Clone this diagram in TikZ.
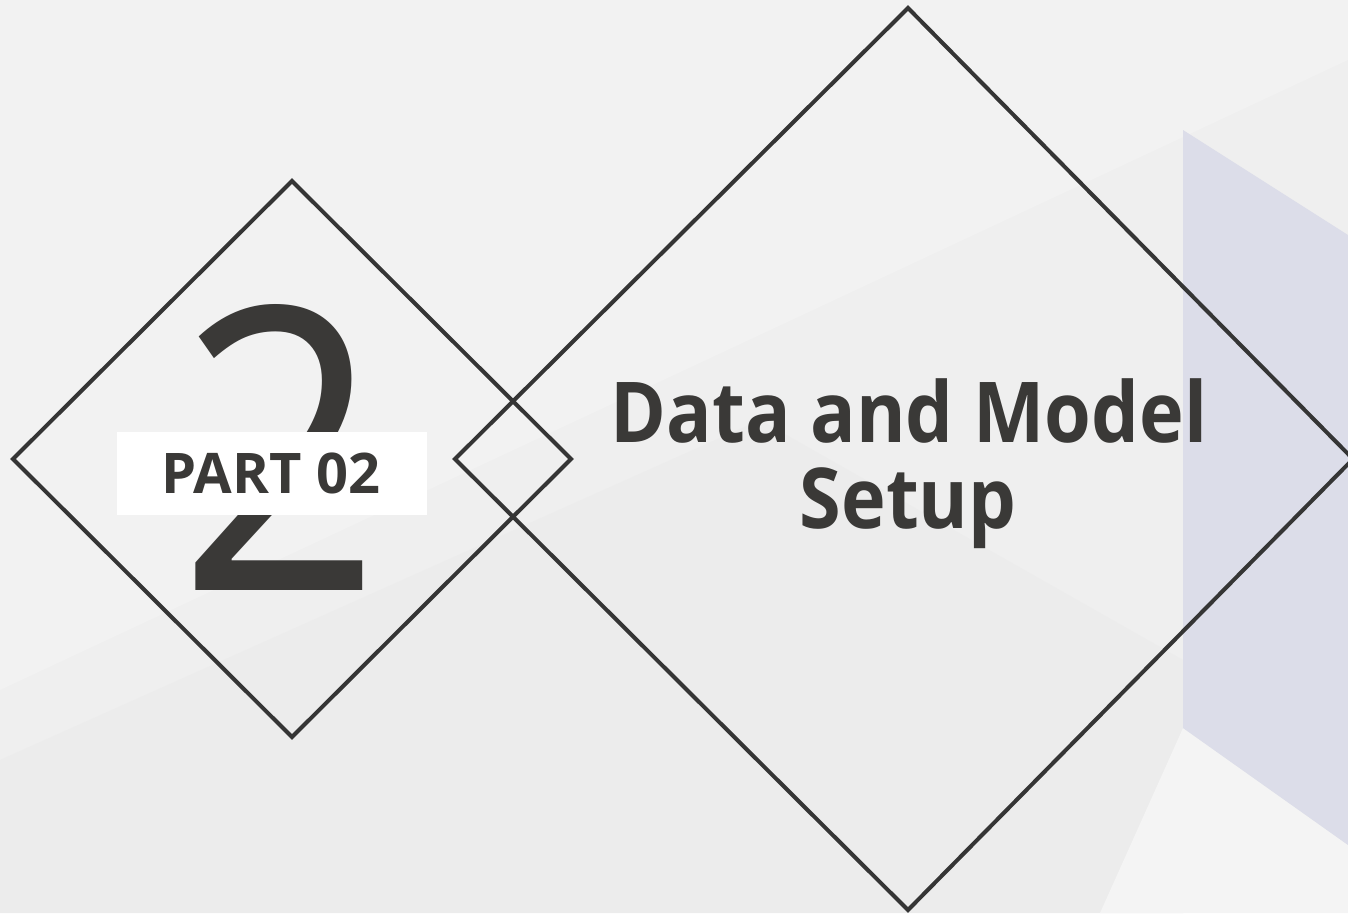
\documentclass[tikz,border=0pt]{standalone}
\usepackage{fontspec}
\setmainfont{Open Sans}
\newfontfamily\titlefont[FakeStretch=0.9]{Open Sans}
\begin{document}
\begin{tikzpicture}[x=1pt,y=-1pt,
  diamondline/.style={draw=linecol, line width=4pt, line join=miter, miter limit=10},
  bigdigit/.style={text=textcol, inner sep=0pt, anchor=base, font=\titlefont\fontsize{395}{395}\selectfont},
  partlabel/.style={text=textcol, inner sep=0pt, anchor=base, font=\bfseries\fontsize{56}{56}\selectfont},
  titletext/.style={text=textcol, inner sep=0pt, anchor=base, align=center, font=\titlefont\bfseries\fontsize{84}{86}\selectfont}]
\definecolor{bgcol}{HTML}{EFEFEF}
\definecolor{bglight}{HTML}{F2F2F2}
\definecolor{bgdark}{HTML}{ECECEC}
\definecolor{bgwhite}{HTML}{F4F4F4}
\definecolor{lavender}{HTML}{DCDDE9}
\definecolor{linecol}{HTML}{353535}
\definecolor{textcol}{HTML}{3A3937}
\useasboundingbox (0,0) rectangle (1348,913);
% background
\fill[bgcol] (0,0) rectangle (1348,913);
\fill[bglight] (0,0) -- (1348,0) -- (1348,60) -- (0,690) -- cycle;
\fill[bgdark] (0,913) -- (0,760) -- (760,420) -- (1183,660) -- (1183,913) -- cycle;
\fill[bgwhite] (1183,728) -- (1348,845) -- (1348,913) -- (1100,913) -- cycle;
\fill[lavender] (1183,130) -- (1348,235) -- (1348,845) -- (1183,728) -- cycle;
% diamonds
\draw[diamondline] (292,181) -- (571,459) -- (292,737) -- (13,459) -- cycle;
\draw[diamondline] (908,8) -- (1353,459) -- (908,910) -- (455,459) -- cycle;
% big digit and label
\node[bigdigit] (digit) at (280,590) {2};
\fill[white] (117,432) rectangle (427,515);
\node[partlabel] (part) at (271,493) {PART 02};
% title
\node[titletext] (title) at (909,442) {Data and Model};
\node[titletext] (title2) at (908,528) {Setup};
\end{tikzpicture}
\end{document}
